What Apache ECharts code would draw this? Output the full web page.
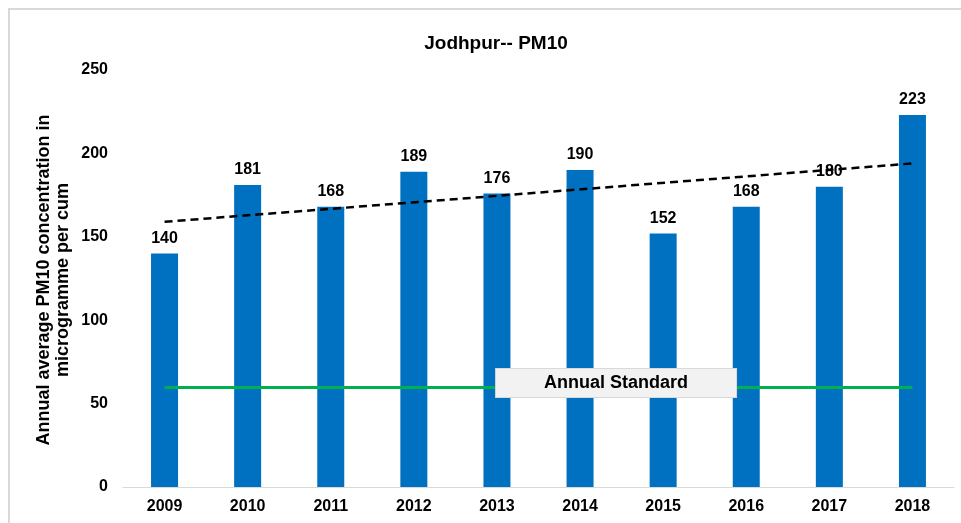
<!DOCTYPE html>
<html>
<head>
<meta charset="utf-8">
<script src="https://cdn.jsdelivr.net/npm/echarts@6/dist/echarts.min.js"></script>
<style>
  html, body { margin: 0; padding: 0; background: #fff; }
  #chart { width: 961px; height: 523px; }
</style>
</head>
<body>
<div id="chart"></div>
<script>
// data
var years = ['2009', '2010', '2011', '2012', '2013', '2014', '2015', '2016', '2017', '2018'];
var pm10 = [140, 181, 168, 189, 176, 190, 152, 168, 180, 223];
var standard = 60;
// dashed trend line, value at first and last year
var trendEnds = [159, 194];
var yTicks = [0, 50, 100, 150, 200, 250];

var chart = echarts.init(document.getElementById('chart'));

var font = 'Liberation Sans, Arial, sans-serif';

var option = {
  animation: false,
  textStyle: { fontFamily: font },
  title: {
    text: 'Jodhpur-- PM10',
    left: 491,
    textAlign: 'center',
    top: 29,
    textStyle: { fontSize: 19, fontWeight: 'bold', color: '#000', fontFamily: font }
  },
  grid: {
    left: 123,
    right: 7,
    top: 70,
    bottom: 36
  },
  xAxis: {
    type: 'category',
    data: years,
    boundaryGap: true,
    axisTick: { show: false },
    axisLine: { show: true, lineStyle: { color: '#d9d9d9', width: 1 } },
    axisLabel: { color: '#000', fontSize: 16, fontWeight: 'bold', margin: 12, fontFamily: font }
  },
  yAxis: {
    type: 'value',
    min: yTicks[0],
    max: yTicks[yTicks.length - 1],
    interval: 50,
    splitLine: { show: false },
    axisLine: { show: false },
    axisTick: { show: false },
    axisLabel: { color: '#000', fontSize: 16, fontWeight: 'bold', margin: 15, fontFamily: font }
  },
  graphic: [
    {
      type: 'rect',
      shape: { x: 9, y: 9, width: 1000, height: 600 },
      style: { fill: 'none', stroke: '#d9d9d9', lineWidth: 2 },
      silent: true
    },
    {
      type: 'text',
      x: 54,
      y: 280,
      rotation: Math.PI / 2,
      style: {
        text: 'Annual average PM10 concentration in\nmicrogramme per cum',
        fontSize: 18,
        fontWeight: 'bold',
        fontFamily: font,
        fill: '#000',
        align: 'center',
        verticalAlign: 'middle',
        lineHeight: 19
      }
    }
  ],
  series: [{
    type: 'bar',
    data: pm10,
    barWidth: 27,
    itemStyle: { color: '#0070c0' },
    label: {
      show: true,
      position: 'top',
      distance: 7,
      color: '#000',
      fontSize: 16,
      fontWeight: 'bold',
      fontFamily: font
    },
    markLine: {
      symbol: 'none',
      silent: true,
      label: { show: false },
      data: [
        [
          { coord: [years[0], trendEnds[0]], lineStyle: { color: '#000', width: 2.5, type: [8, 5] } },
          { coord: [years[years.length - 1], trendEnds[1]] }
        ],
        [
          { coord: [years[0], standard], lineStyle: { color: '#00b050', width: 3, type: 'solid' } },
          { coord: [years[years.length - 1], standard] }
        ]
      ]
    },
    markPoint: {
      symbol: 'rect',
      symbolSize: 0,
      silent: true,
      data: [{
        coord: ['2014', standard],
        label: {
          show: true,
          formatter: 'Annual Standard',
          offset: [36, -4],
          color: '#000',
          fontSize: 18,
          fontWeight: 'bold',
          fontFamily: font,
          backgroundColor: '#f2f2f2',
          borderColor: '#d9d9d9',
          borderWidth: 1,
          padding: [5, 48]
        }
      }]
    },
    z: 2
  }]
};

chart.setOption(option);
</script>
</body>
</html>
